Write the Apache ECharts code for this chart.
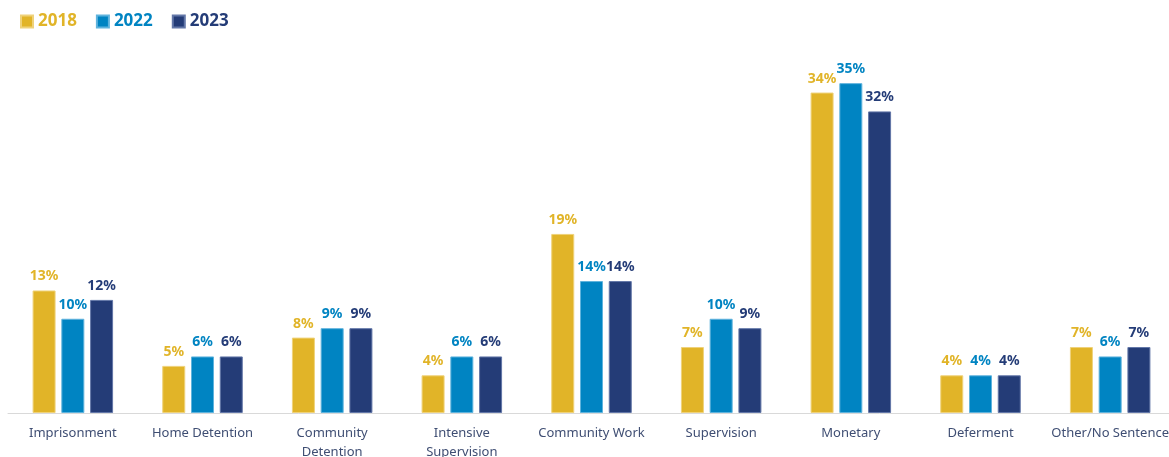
<!DOCTYPE html>
<html>
<head>
<meta charset="utf-8">
<script src="https://cdn.jsdelivr.net/npm/echarts@6/dist/echarts.min.js"></script>
<style>
  html, body { margin: 0; padding: 0; background: #ffffff; }
  #chart { width: 1169px; height: 457px; }
</style>
</head>
<body>
<div id="chart"></div>
<script>
// Sentence types imposed, share of total (%) by year
const categories = [
  'Imprisonment', 'Home Detention', 'Community\nDetention', 'Intensive\nSupervision',
  'Community Work', 'Supervision', 'Monetary', 'Deferment', 'Other/No Sentence'
];
const years = ['2018', '2022', '2023'];
const values2018 = [13, 5, 8, 4, 19, 7, 34, 4, 7];
const values2022 = [10, 6, 9, 6, 14, 10, 35, 4, 6];
const values2023 = [12, 6, 9, 6, 14, 9, 32, 4, 7];

const colors = ['#E1B428', '#0084C2', '#243C77'];
const borders = ['#EFD27A', '#5FB3DD', '#6377A8'];
const seriesValues = [values2018, values2022, values2023];
const fontFamily = '"Noto Sans", "Liberation Sans", sans-serif';

const chart = echarts.init(document.getElementById('chart'), null, { renderer: 'canvas' });

chart.setOption({
  animation: false,
  legend: {
    left: 20,
    top: 13,
    padding: 0,
    itemWidth: 12,
    itemHeight: 12,
    itemGap: 19,
    icon: 'rect',
    data: years.map((y, i) => ({
      name: y,
      textStyle: { color: colors[i], fontWeight: 'bold', fontSize: 17, fontFamily: fontFamily }
    }))
  },
  // plot area runs a little past the right edge, so the last label is clipped
  grid: { left: 8, width: 1167, top: 36, bottom: 44, containLabel: false, outerBoundsMode: 'none' },
  xAxis: {
    type: 'category',
    data: categories,
    axisLine: { show: true, lineStyle: { color: '#D9D9D9', width: 1 } },
    axisTick: { show: false },
    axisLabel: {
      interval: 0,
      margin: 11,
      color: '#3F4E73',
      fontSize: 13,
      lineHeight: 19,
      fontFamily: fontFamily
    }
  },
  yAxis: {
    type: 'value',
    min: 0,
    max: 40,
    show: false,
    splitLine: { show: false }
  },
  series: years.map((y, i) => ({
    name: y,
    type: 'bar',
    data: seriesValues[i],
    barWidth: 23,
    barGap: '25%',
    itemStyle: { color: colors[i], borderColor: borders[i], borderWidth: 1 },
    label: {
      show: true,
      position: 'top',
      distance: 7,
      formatter: '{c}%',
      color: colors[i],
      fontWeight: 'bold',
      fontSize: 14,
      fontFamily: fontFamily
    }
  }))
});
</script>
</body>
</html>
